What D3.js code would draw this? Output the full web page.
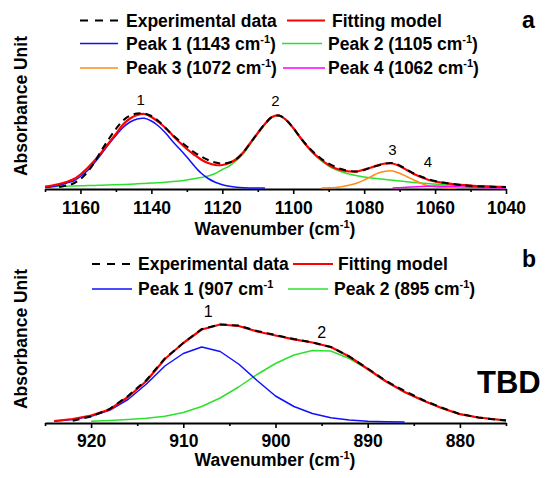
<!DOCTYPE html>
<html>
<head>
<meta charset="utf-8">
<script src="https://cdn.jsdelivr.net/npm/d3@7"></script>
<style>
  body { margin: 0; background: #fff; }
  svg { font-family: "Liberation Sans", Arial, sans-serif; }
</style>
</head>
<body>
<svg id="chart" width="550" height="478"></svg>
<script>
// ---- panel a : 1170-1040 cm-1, sampled every 2 cm-1 ----
var waveA = [1170, 1168, 1166, 1164, 1162, 1160, 1158, 1156, 1154, 1152, 1150, 1148, 1146, 1144, 1142, 1140,
             1138, 1136, 1134, 1132, 1130, 1128, 1126, 1124, 1122, 1120, 1118, 1116, 1114, 1112, 1110, 1108,
             1106, 1104, 1102, 1100, 1098, 1096, 1094, 1092, 1090, 1088, 1086, 1084, 1082, 1080, 1078, 1076,
             1074, 1072, 1070, 1068, 1066, 1064, 1062, 1060, 1058, 1056, 1054, 1052, 1050, 1048, 1046, 1044,
             1042, 1040];
var expA = [null, null, 1, 2.5, 4.5, 9, 16, 26, 38, 49, 59, 67.5, 72.5, 74.5, 74.5, 72,
            67, 60, 53, 47, 41.5, 36, 31.5, 28, 25.5, 24.5, 25.5, 29, 36, 45.5, 55, 64,
            71, 72.5, 68, 60, 50.5, 42, 35, 29, 24.5, 21, 18.5, 17, 16.5, 18, 20.5, 22.5,
            24.5, 25, 22.5, 18.5, 14.5, 11.5, 9, 7, 5.5, 4.5, 3.6, 2.8, 2.2, 1.8, 1.5, 1.2,
            1, 0.9];
var fitA = [1.5, 2.5, 4, 6, 8.7, 13.5, 20, 27.5, 36, 45, 54, 63.5, 69.5, 73, 74, 71,
            66, 60, 52.5, 45.5, 39, 33.5, 28.5, 25, 23, 23, 25, 29, 36, 45.5, 55, 64,
            71, 72.5, 68, 60, 50.5, 41.5, 34, 28, 23, 19.5, 17.5, 16.5, 16.5, 18.5, 20.5, 23,
            24.5, 24.5, 22, 18, 14, 11, 8.3, 6.5, 5.4, 4.4, 3.6, 3, 2.4, 2, 1.7, 1.4,
            1.2, 1];
var peak1A = [0.5, 1.3, 2.8, 4.8, 7, 11.5, 17.5, 25.5, 34.5, 44, 52.5, 60.5, 66, 69, 69.7, 67,
              62, 55, 46.5, 39, 31, 22.5, 15, 9.5, 5.8, 3.3, 1.8, 0.8, 0.3, 0.1, 0, 0,
              null, null, null, null, null, null, null, null, null, null, null, null, null, null, null, null,
              null, null, null, null, null, null, null, null, null, null, null, null, null, null, null, null,
              null, null];
var peak2A = [1.2, 1.4, 1.6, 1.8, 2, 2.2, 2.4, 2.6, 2.8, 3, 3.3, 3.5, 3.8, 4.2, 4.5, 4.9,
              5.3, 5.8, 6.4, 7.1, 8, 9.2, 10.5, 12, 14.5, 18.5, 22, 27.5, 34.5, 44.5, 54.5, 63.5,
              70.5, 72.3, 68, 60, 50, 41, 33, 27, 22, 18.5, 15.8, 13.8, 12.2, 11, 10, 9.2,
              8.5, 7.8, 7, 6.2, 5.5, 4.9, 4.4, 3.9, 3.4, 3, 2.6, 2.3, 2, 1.8, 1.6, 1.4,
              1.2, 1];
var peak3A = [null, null, null, null, null, null, null, null, null, null, null, null, null, null, null, null,
              null, null, null, null, null, null, null, null, null, null, null, null, null, null, null, null,
              null, null, null, null, null, null, null, 0, 0.2, 0.6, 1.5, 3, 5, 8, 11.5, 15,
              16.8, 17, 14.8, 11.5, 8, 4.8, 2.4, 1, 0.4, 0.1, 0, null, null, null, null, null,
              null, null];
var peak4A = [null, null, null, null, null, null, null, null, null, null, null, null, null, null, null, null,
              null, null, null, null, null, null, null, null, null, null, null, null, null, null, null, null,
              null, null, null, null, null, null, null, null, null, null, null, null, null, null, null, null,
              null, 0, 0.3, 0.7, 1.1, 1.5, 1.8, 1.9, 1.8, 1.6, 1.3, 1, 0.7, 0.5, 0.3, 0.2,
              0.1, 0];
var ticksA = [1160, 1140, 1120, 1100, 1080, 1060, 1040];
var minorA = [1170, 1150, 1130, 1110, 1090, 1070, 1050];

// ---- panel b : 925-875 cm-1 ----
var waveB = [924, 922, 920, 918, 916, 914, 912, 910, 908, 906, 904, 902, 900, 898, 896, 894,
             892, 890, 888, 886, 884, 882, 880, 878, 876, 875];
var expB = [null, 1.2, 5.5, 13, 26, 42, 63.5, 79, 93, 97.5, 96.5, 91, 87, 83, 79.5, 75,
            65.5, 53.5, 41, 31, 22, 14.5, 8, 4.5, 2.2, 1.5];
var fitB = [1, 3, 6.5, 12.5, 25, 41, 63, 79, 92.5, 97.5, 96, 90.5, 86.5, 82.7, 79.5, 75,
            65.5, 53, 40.5, 30, 21.5, 14, 7.8, 4.5, 2.5, 1.7];
var peak1B = [0.7, 2.5, 5.8, 11.7, 22.5, 38, 56, 68.5, 75, 70.5, 58, 41.5, 26, 15.5, 8.5, 4.3,
              2, 0.7, 0.2, 0, null, null, null, null, null, null];
var peak2B = [null, null, 0.8, 1.5, 2.5, 3.8, 5.8, 9.5, 15.5, 24, 35, 47.5, 58.5, 67, 71.5, 71,
              63.5, 53, 40.5, 30, 21.5, 14, 7.8, 4.5, 2.5, 1.7];
var ticksB = [920, 910, 900, 890, 880];
var minorB = [925, 915, 905, 895, 885, 875];

var svg = d3.select("#chart");
var font = '"Liberation Sans", Arial, sans-serif';

// text, with "cm-1" written as cm plus a superscript -1
function labelText(sel, s) {
    var parts = s.split("cm-1");
    if (parts.length < 2) {
        sel.text(s);
        return;
    }
    sel.append("tspan").text(parts[0] + "cm");
    sel.append("tspan").attr("dy", -7).attr("font-size", 11).text("-1");
    sel.append("tspan").attr("dy", 7).text(parts[1]);
}

function drawPanel(p) {
    var x = d3.scaleLinear().domain(p.xDomain).range([45, 506]);
    var y = d3.scaleLinear().domain(p.yDomain).range([p.base, p.base - (p.yDomain[1] - p.yDomain[0])]);
    var g = svg.append("g");

    // minor ticks
    g.append("g")
        .attr("transform", "translate(0," + p.axisY + ")")
        .call(d3.axisBottom(x).tickValues(p.minor).tickSize(3).tickSizeOuter(0).tickFormat(""))
        .call(function(a) {
            a.select(".domain").remove();
            a.selectAll("line").attr("stroke-width", 1.6);
        });

    // major ticks + labels
    g.append("g")
        .attr("transform", "translate(0," + p.axisY + ")")
        .call(d3.axisBottom(x).tickValues(p.ticks).tickSize(5).tickSizeOuter(0).tickFormat(d3.format("d")))
        .call(function(a) {
            a.select(".domain").attr("stroke-width", 1.8);
            a.selectAll("line").attr("stroke-width", 1.6);
            a.selectAll("text")
                .attr("y", p.tickLabelY)
                .attr("dy", null)
                .attr("font-family", font)
                .attr("font-size", 17.5)
                .attr("font-weight", "bold")
                .attr("fill", "#000");
        });

    // x title
    g.append("text")
        .attr("x", 275).attr("y", p.titleY)
        .attr("text-anchor", "middle")
        .attr("font-size", 17.5).attr("font-weight", "bold")
        .call(labelText, "Wavenumber (cm-1)");

    // y title
    g.append("text")
        .attr("transform", "translate(27," + p.yTitleY + ") rotate(-90)")
        .attr("text-anchor", "middle")
        .attr("font-size", 17.5).attr("font-weight", "bold")
        .text("Absorbance Unit");

    // curves
    p.series.forEach(function(s) {
        var pts = p.wave.map(function(w, i) { return [w, s.values[i]]; });
        var line = d3.line()
            .defined(function(d) { return d[1] != null; })
            .x(function(d) { return x(d[0]); })
            .y(function(d) { return y(d[1]); })
            .curve(p.curve);
        g.append("path")
            .datum(pts)
            .attr("d", line)
            .attr("fill", "none")
            .attr("stroke", s.color)
            .attr("stroke-width", s.width)
            .attr("stroke-dasharray", s.dash || null)
            .attr("stroke-linejoin", "round");
    });

    // legend
    p.legend.forEach(function(l) {
        g.append("line")
            .attr("x1", l.x1).attr("x2", l.x2)
            .attr("y1", l.y).attr("y2", l.y)
            .attr("stroke", l.color)
            .attr("stroke-width", l.width)
            .attr("stroke-dasharray", l.dash || null);
        g.append("text")
            .attr("x", l.tx).attr("y", l.y + 6.3)
            .attr("font-size", 17.5).attr("font-weight", "bold")
            .call(labelText, l.label);
    });

    // peak numbers
    p.marks.forEach(function(m) {
        g.append("text")
            .attr("x", x(m.w)).attr("y", m.y)
            .attr("text-anchor", "middle")
            .attr("font-size", p.markSize)
            .text(m.label);
    });

    // panel letter
    g.append("text")
        .attr("x", 522).attr("y", p.letterY)
        .attr("font-size", 23).attr("font-weight", "bold")
        .text(p.letter);
}

drawPanel({
    xDomain: [1170, 1040], yDomain: [0, 80], base: 188, axisY: 189,
    tickLabelY: 25, titleY: 235, yTitleY: 106,
    ticks: ticksA, minor: minorA, wave: waveA,
    curve: d3.curveCatmullRom,
    series: [
        {values: peak2A, color: "#2ee02e", width: 1.5},
        {values: peak3A, color: "#ff8c1a", width: 1.5},
        {values: peak4A, color: "#ff00ff", width: 1.5},
        {values: peak1A, color: "#1010ff", width: 1.5},
        {values: fitA, color: "#ff0000", width: 2.2},
        {values: expA, color: "#000", width: 2, dash: "7,5"}
    ],
    legend: [
        {label: "Experimental data", color: "#000", width: 2, dash: "8,7", x1: 80, x2: 118, tx: 126, y: 20.5},
        {label: "Fitting model", color: "#ff0000", width: 2.2, x1: 287, x2: 325, tx: 332, y: 20.5},
        {label: "Peak 1 (1143 cm-1)", color: "#1010ff", width: 1.5, x1: 80, x2: 118, tx: 126, y: 43.5},
        {label: "Peak 2 (1105 cm-1)", color: "#2ee02e", width: 1.5, x1: 282, x2: 322, tx: 328, y: 43.5},
        {label: "Peak 3 (1072 cm-1)", color: "#ff8c1a", width: 1.5, x1: 80, x2: 118, tx: 126, y: 68},
        {label: "Peak 4 (1062 cm-1)", color: "#ff00ff", width: 1.5, x1: 283, x2: 325, tx: 328, y: 68}
    ],
    markSize: 15,
    marks: [
        {label: "1", w: 1143, y: 105},
        {label: "2", w: 1105, y: 106},
        {label: "3", w: 1072, y: 155},
        {label: "4", w: 1062, y: 167}
    ],
    letter: "a", letterY: 28
});

drawPanel({
    xDomain: [925, 875], yDomain: [0, 100], base: 422, axisY: 423,
    tickLabelY: 24, titleY: 466, yTitleY: 339,
    ticks: ticksB, minor: minorB, wave: waveB,
    curve: d3.curveLinear,
    series: [
        {values: peak2B, color: "#2ee02e", width: 1.5},
        {values: peak1B, color: "#1010ff", width: 1.5},
        {values: fitB, color: "#ff0000", width: 2.2},
        {values: expB, color: "#000", width: 2, dash: "7,5"}
    ],
    legend: [
        {label: "Experimental data", color: "#000", width: 2, dash: "8,7", x1: 92, x2: 132, tx: 138, y: 264},
        {label: "Fitting model", color: "#ff0000", width: 2.2, x1: 293, x2: 333, tx: 338, y: 264},
        {label: "Peak 1 (907 cm-1", color: "#1010ff", width: 1.5, x1: 92, x2: 132, tx: 138, y: 289},
        {label: "Peak 2 (895 cm-1)", color: "#2ee02e", width: 1.5, x1: 288, x2: 328, tx: 334, y: 289}
    ],
    markSize: 16,
    marks: [
        {label: "1", w: 907.3, y: 317},
        {label: "2", w: 895, y: 338}
    ],
    letter: "b", letterY: 267
});

// unassigned-sample note on panel b
svg.append("text")
    .attr("x", 477).attr("y", 393)
    .attr("font-size", 31).attr("font-weight", "bold")
    .text("TBD");
</script>
</body>
</html>
